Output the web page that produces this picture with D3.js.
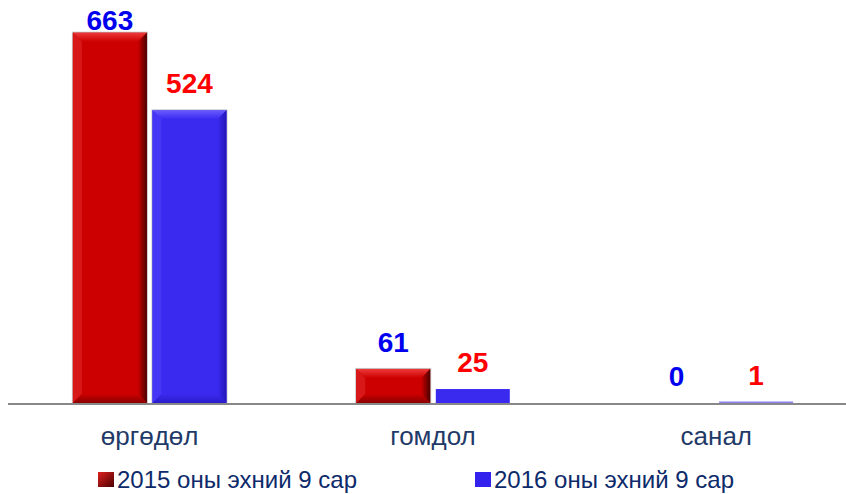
<!DOCTYPE html>
<html><head><meta charset="utf-8">
<script src="https://cdn.jsdelivr.net/npm/d3@7"></script>
<style>body{margin:0;background:#fff}svg{display:block}</style>
</head><body>
<svg id="c" width="846" height="494"></svg>
<script>
const categories = ["өргөдөл", "гомдол", "санал"];
const seriesNames = ["2015 оны эхний 9 сар", "2016 оны эхний 9 сар"];
const values2015 = [663, 61, 0];
const values2016 = [524, 25, 1];
const labelColors = ["#0000ee", "#ff0000"];

const svg = d3.select("#c");
const W = 846, H = 494;
const baseY = 403;
const x0 = d3.scaleBand().domain(categories).range([8, 858]).paddingInner(0).paddingOuter(0);
const x1 = d3.scaleBand().domain([0, 1]).range([0, x0.bandwidth()]).paddingInner(0.07).paddingOuter(0.815);
const y = d3.scaleLinear().domain([0, 700]).range([baseY, 12]);

const defs = svg.append("defs");
const pal = [
  {base:"#cc0000", top:"#ee3a3a", left:"#d81818", right:"#4a0000", bottom:"#8a0000"},
  {base:"#3a2af0", top:"#6a5cff", left:"#4535f5", right:"#2416b8", bottom:"#2a1cc8"}
];
pal.forEach((p,i)=>{
  const gr = defs.append("linearGradient").attr("id","gr"+i).attr("x1",0).attr("x2",1).attr("y1",0).attr("y2",0);
  gr.append("stop").attr("offset",0).attr("stop-color",p.base);
  gr.append("stop").attr("offset",1).attr("stop-color",p.right);
  const gt = defs.append("linearGradient").attr("id","gt"+i).attr("x1",0).attr("x2",0).attr("y1",0).attr("y2",1);
  gt.append("stop").attr("offset",0).attr("stop-color",p.top);
  gt.append("stop").attr("offset",1).attr("stop-color",p.base);
  const gb = defs.append("linearGradient").attr("id","gb"+i).attr("x1",0).attr("x2",0).attr("y1",0).attr("y2",1);
  gb.append("stop").attr("offset",0).attr("stop-color",p.base);
  gb.append("stop").attr("offset",1).attr("stop-color",p.bottom);
});
const lg = defs.append("linearGradient").attr("id","lgRed").attr("x1",0).attr("x2",1).attr("y1",0).attr("y2",1);
lg.append("stop").attr("offset",0).attr("stop-color","#e02020");
lg.append("stop").attr("offset",1).attr("stop-color","#4a0000");

const data = [];
categories.forEach((c,ci)=>{
  [values2015[ci], values2016[ci]].forEach((v,si)=>data.push({c, si, v}));
});

data.forEach(d=>{
  const bx = x0(d.c) + x1(d.si);
  const bw = x1.bandwidth();
  const by = y(d.v);
  let bh = baseY - by;
  if (d.v > 0 && bh < 1.5) bh = 1.5;
  if (d.v <= 0) return;
  const top = baseY - bh;
  const g = svg.append("g");
  const p = pal[d.si];
  if (bh < 20) {
    g.append("rect").attr("x",bx).attr("y",top).attr("width",bw).attr("height",bh)
      .attr("fill", bh < 3 ? "#8a80f0" : p.base);
    return;
  }
  g.append("rect").attr("x",bx-1).attr("y",top-1).attr("width",bw+2).attr("height",bh+1).attr("fill","#c8c8c8");
  g.append("rect").attr("x",bx).attr("y",top).attr("width",bw).attr("height",bh).attr("fill",p.base);
  const b = 9;
  const x2 = bx + bw, y2 = baseY;
  g.append("polygon").attr("points",[[bx,top],[x2,top],[x2-b,top+b],[bx+b,top+b]].join(" ")).attr("fill","url(#gt"+d.si+")");
  g.append("polygon").attr("points",[[bx,top],[bx+b,top+b],[bx+b,y2-b],[bx,y2]].join(" ")).attr("fill",p.left);
  g.append("polygon").attr("points",[[x2,top],[x2,y2],[x2-b,y2-b],[x2-b,top+b]].join(" ")).attr("fill","url(#gr"+d.si+")");
  g.append("polygon").attr("points",[[bx,y2],[x2,y2],[x2-b,y2-b],[bx+b,y2-b]].join(" ")).attr("fill","url(#gb"+d.si+")");
});

data.forEach(d=>{
  const cx = x0(d.c) + x1(d.si) + x1.bandwidth()/2;
  const ly = Math.max(y(d.v) - 17, 30);
  svg.append("text").attr("x",cx).attr("y",ly).attr("text-anchor","middle")
    .attr("font-family","Liberation Sans, Arial, sans-serif").attr("font-weight","bold").attr("font-size",28)
    .attr("fill",labelColors[d.si]).text(d.v);
});

svg.append("line").attr("x1",8).attr("x2",846).attr("y1",baseY+1).attr("y2",baseY+1)
  .attr("stroke","#888888").attr("stroke-width",2);

categories.forEach(c=>{
  svg.append("text").attr("x",x0(c)+x0.bandwidth()/2).attr("y",445).attr("text-anchor","middle")
    .attr("font-family","Liberation Sans, Arial, sans-serif").attr("font-size",26)
    .attr("fill","#1f3a68").text(c);
});

const legX = [98, 475];
seriesNames.forEach((s,i)=>{
  svg.append("rect").attr("x",legX[i]).attr("y",472).attr("width",16).attr("height",15)
    .attr("fill", i===0 ? "url(#lgRed)" : "#3322ee");
  svg.append("text").attr("x",legX[i]+19).attr("y",488)
    .attr("font-family","Liberation Sans, Arial, sans-serif").attr("font-size",24)
    .attr("fill","#0d2a6a").text(s);
});
</script>
</body></html>
